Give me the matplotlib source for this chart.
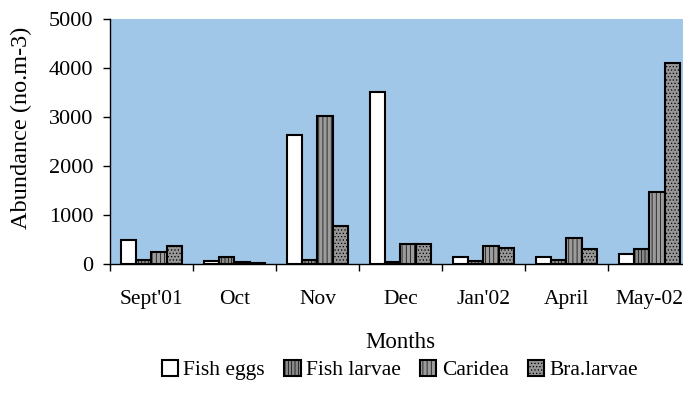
import matplotlib
matplotlib.use("Agg")
import matplotlib.pyplot as plt
import numpy as np

months = ["Sept'01", "Oct", "Nov", "Dec", "Jan'02", "April", "May-02"]
fish_eggs = [490, 60, 2640, 3510, 150, 150, 200]
fish_larvae = [80, 150, 80, 40, 70, 90, 315]
caridea = [240, 40, 3030, 400, 375, 520, 1460]
bra_larvae = [375, 15, 770, 400, 335, 315, 4110]
series_names = ["Fish eggs", "Fish larvae", "Caridea", "Bra.larvae"]
yticks = [0, 1000, 2000, 3000, 4000, 5000]

plt.rcParams['font.family'] = ['Liberation Serif', 'DejaVu Serif']
plt.rcParams['hatch.linewidth'] = 0.5

fig = plt.figure(figsize=(6.83, 4.07), dpi=100)
ax = fig.add_axes([0.161, 0.3514, 0.8507, 0.602])
ax.set_facecolor('#a0c6e8')

x = np.arange(len(months))
bw = 0.182
offs = np.array([-1.5, -0.5, 0.5, 1.5]) * bw
styles = [
    dict(facecolor='white', hatch=None),
    dict(facecolor='#8a8a8a', hatch='|||||'),
    dict(facecolor='#9c9c9c', hatch='||||'),
    dict(facecolor='#969696', hatch='.....'),
]
data = [fish_eggs, fish_larvae, caridea, bra_larvae]
for d, o, st, name in zip(data, offs, styles, series_names):
    ax.bar(x + o, d, width=bw, edgecolor='black', linewidth=1.5,
           label=name, **st)

ax.set_xlim(-0.5, len(months) - 0.5)
ax.set_ylim(0, 5000)
ax.set_yticks(yticks)
ax.set_xticks(np.arange(len(months) + 1) - 0.5)
ax.set_xticklabels([])
ax.set_xticks(x, minor=True)
ax.set_xticklabels(months, minor=True, fontsize=15.5)
ax.tick_params(axis='x', which='minor', length=0, pad=19)
ax.tick_params(axis='x', which='major', length=5, width=1)
ax.tick_params(axis='y', length=5, width=1, labelsize=16, pad=7)
for s in ['top', 'right']:
    ax.spines[s].set_visible(False)
ax.spines['left'].set_linewidth(1)
ax.spines['bottom'].set_linewidth(1)

ax.set_xlabel('Months', fontsize=16.5, labelpad=16)
ax.set_ylabel('Abundance (no.m-3)', fontsize=17.5)
ax.yaxis.set_label_coords(-0.134, 0.557)

fig.legend(loc='center', bbox_to_anchor=(400/683, 1 - 370/407), ncol=4,
           frameon=False, fontsize=15.5, handlelength=0.75, handleheight=0.75,
           handletextpad=0.25, columnspacing=0.9)

fig.savefig('out.png', dpi=100)
